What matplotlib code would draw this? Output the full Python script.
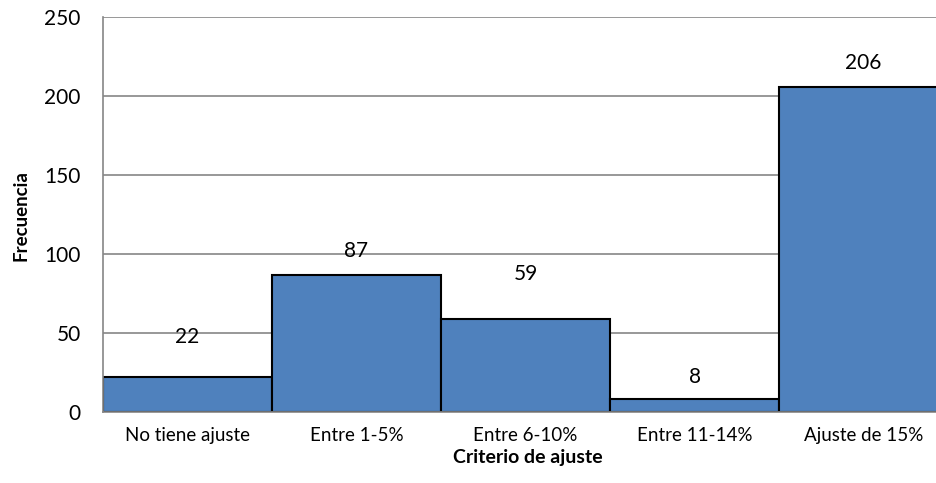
import matplotlib
matplotlib.use("Agg")
import matplotlib.pyplot as plt
import numpy as np

# datos
categorias = ["No tiene ajuste", "Entre 1-5%", "Entre 6-10%", "Entre 11-14%", "Ajuste de 15%"]
frecuencias = [22, 87, 59, 8, 206]
y_ticks = [0, 50, 100, 150, 200, 250]

plt.rcParams["font.family"] = ["Lato", "DejaVu Sans"]

fig = plt.figure(figsize=(9.36, 4.83), dpi=100)
ax = fig.add_axes([103 / 936, 1 - 412 / 483, 845 / 936, 395 / 483])

x = np.arange(len(categorias))
ax.bar(x, frecuencias, width=1.0, color="#4F81BD", edgecolor="black", linewidth=1.5, zorder=2)

# etiquetas de datos (desplazamiento en puntos, como en el original)
offsets = [29, 17, 32, 16, 17]
for xi, v, off in zip(x, frecuencias, offsets):
    ax.annotate(str(v), (xi, v), xytext=(0, off), textcoords="offset points",
                ha="center", va="center", fontsize=15, zorder=3)

ax.set_xlim(-0.5, len(categorias) - 0.5)
ax.set_ylim(0, 250)
ax.set_yticks(y_ticks)
ax.set_xticks(x)
ax.set_xticklabels(categorias, fontsize=13.5)
ax.tick_params(axis="y", labelsize=15, length=0, pad=16)
ax.tick_params(axis="x", length=0, pad=11)
ax.yaxis.grid(True, color="#868686", linewidth=1.2, zorder=0)
ax.set_axisbelow(True)

for s in ["top", "right"]:
    ax.spines[s].set_visible(False)
for s in ["left", "bottom"]:
    ax.spines[s].set_color("#868686")
    ax.spines[s].set_linewidth(1.2)
ax.spines["bottom"].set_zorder(3)

fig.text(21 / 936, 1 - 216 / 483, "Frecuencia", rotation=90, ha="center", va="center",
         fontsize=13.5, fontweight="bold")
fig.text(528 / 936, 1 - 457 / 483, "Criterio de ajuste", ha="center", va="center",
         fontsize=14, fontweight="bold")

fig.savefig("out.png", dpi=100)
